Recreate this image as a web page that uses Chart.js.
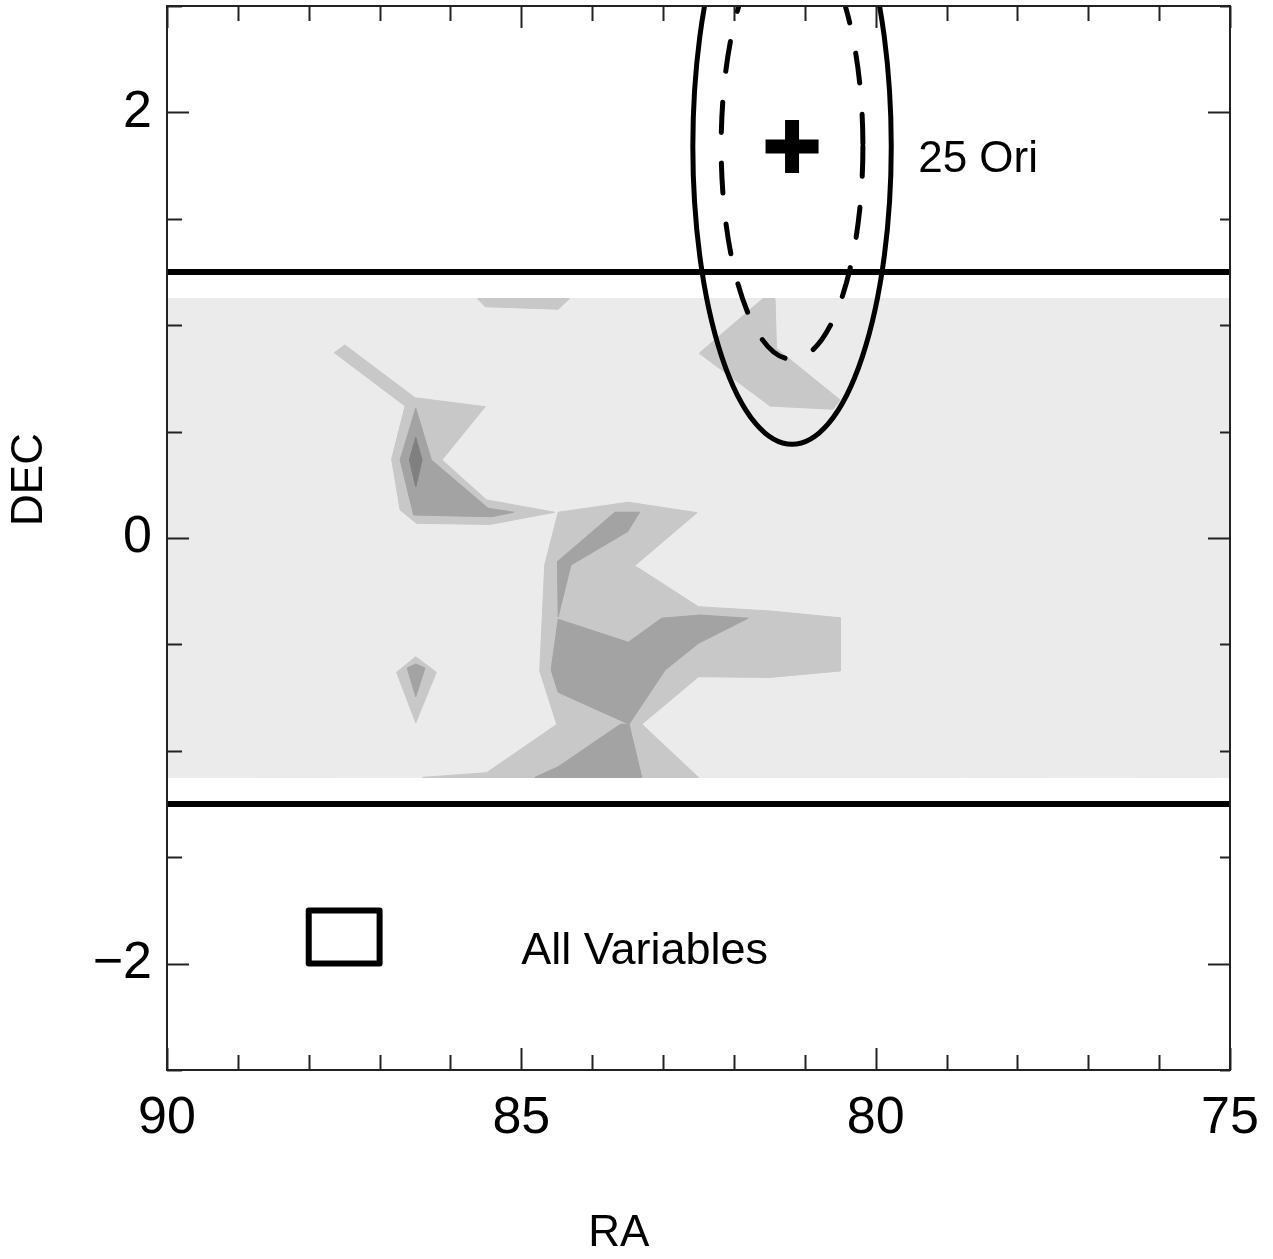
<!DOCTYPE html>
<html lang="en">
<head>
<meta charset="UTF-8">
<title>RA / DEC map</title>
<script src="https://cdn.jsdelivr.net/npm/chart.js"></script>
<style>
  html, body { margin: 0; padding: 0; background: #fff; }
  canvas { display: block; }
</style>
</head>
<body>
<canvas id="raDecChart" width="1273" height="1259"></canvas>
<script>
// axis ranges and ticks
const raRange = [75, 90];
const decRange = [-2.5, 2.5];
const raMajorTicks = [90, 85, 80, 75];
const raMinorStep = 1;
const decMajorTicks = [2, 0, -2];
const decMinorStep = 0.5;
const raTitle = 'RA';
const decTitle = 'DEC';

// observed strip and its two edge lines
const stripPoly = [[90, 1.125], [75, 1.125], [75, -1.125], [90, -1.125]];
const edgeDecs = [1.25, -1.25];

// contour level 1 (mid grey)
const midA = [[87.49, 0.907], [86.50, 0.659], [85.51, 0.617], [86.12, 0.367], [85.49, 0.179], [84.53, 0.121],
  [85.44, 0.064], [86.48, 0.069], [86.71, 0.132], [86.83, 0.371], [86.64, 0.620], [87.64, 0.871]];
const midTop = [[85.62, 1.125], [84.32, 1.125], [84.48, 1.075], [85.51, 1.087]];
const midB = [[84.48, 0.121], [83.49, 0.168], [82.52, 0.119], [83.40, -0.130], [82.50, -0.323], [81.49, -0.343],
  [80.50, -0.375], [80.50, -0.625], [81.49, -0.655], [82.50, -0.652], [83.30, -0.875], [82.50, -1.125],
  [86.39, -1.125], [85.49, -1.103], [84.50, -0.876], [84.74, -0.625], [84.67, -0.127]];
const midC = [[81.42, 1.125], [81.40, 0.891], [80.50, 0.648], [80.60, 0.605], [81.49, 0.620], [82.49, 0.868], [81.59, 1.125]];
const midD = [[86.49, -0.558], [86.20, -0.631], [86.49, -0.868], [86.76, -0.631]];

// contour level 2 (dark grey)
const darkA = [[86.49, 0.610], [86.27, 0.367], [85.47, 0.140], [85.11, 0.121], [85.42, 0.100], [86.52, 0.108], [86.71, 0.367]];
const darkB1 = [[83.68, 0.121], [83.33, 0.121], [83.50, 0.030], [84.30, -0.127], [84.48, -0.370], [84.49, -0.111]];
const darkB2 = [[84.48, -0.382], [83.49, -0.490], [83.02, -0.377], [82.48, -0.362], [81.80, -0.377], [82.50, -0.495],
  [82.97, -0.620], [83.48, -0.875], [84.48, -0.725], [84.58, -0.620]];
const darkB3 = [[83.60, -0.875], [83.48, -0.875], [83.30, -1.125], [84.81, -1.125], [84.48, -1.075]];
const darkD = [[86.49, -0.592], [86.36, -0.611], [86.49, -0.746], [86.61, -0.611]];

// contour level 3 (darkest)
const darkestA = [[86.49, 0.473], [86.40, 0.367], [86.49, 0.241], [86.58, 0.367]];

// 25 Ori position and the two circles round it (radius in degrees)
const oriCentre = [81.18, 1.84];
const ringRadii = [1.4, 1.0];
const oriLabel = '25 Ori';
const oriLabelAt = [79.4, 1.72];

// legend box
const legendBox = [[88, -1.75], [87, -1.75], [87, -2.0], [88, -2.0], [88, -1.75]];
const legendLabel = 'All Variables';
const legendLabelAt = [85, -2.0];

const FONT = '"Liberation Sans", Arial, Helvetica, sans-serif';
Chart.defaults.font.family = FONT;
Chart.defaults.color = '#000';

const toPts = poly => poly.map(p => ({ x: p[0], y: p[1] }));

function shape(poly, color, order) {
  const pts = toPts(poly);
  pts.push(pts[0]);
  return {
    data: pts, showLine: true, fill: 'shape',
    backgroundColor: color, borderColor: color, borderWidth: 1,
    pointRadius: 0, order: order
  };
}

function stroke(poly, width, order) {
  return {
    data: toPts(poly), showLine: true, fill: false,
    borderColor: '#000', borderWidth: width, borderJoinStyle: 'round', borderCapStyle: 'round',
    pointRadius: 0, order: order
  };
}

const LIGHT = '#ebebeb', MID = '#c8c8c8', DARK = '#a3a3a3', DARKEST = '#808080';

const datasets = [
  shape(stripPoly, LIGHT, 20),
  shape(midA, MID, 15), shape(midTop, MID, 15), shape(midB, MID, 15), shape(midC, MID, 15), shape(midD, MID, 15),
  shape(darkA, DARK, 12), shape(darkB1, DARK, 12), shape(darkB2, DARK, 12), shape(darkB3, DARK, 12), shape(darkD, DARK, 12),
  shape(darkestA, DARKEST, 10),
  stroke([[raRange[1], edgeDecs[0]], [raRange[0], edgeDecs[0]]], 6, 5),
  stroke([[raRange[1], edgeDecs[1]], [raRange[0], edgeDecs[1]]], 6, 5),
  stroke(legendBox, 6, 5),
  {
    data: [{ x: oriCentre[0], y: oriCentre[1] }],
    pointStyle: 'cross', pointRadius: 26.5, pointBorderWidth: 14,
    borderColor: '#000', backgroundColor: '#000', order: 1
  }
];

// rings, frame with inward ticks, and free text
const overlayPlugin = {
  id: 'overlay',
  afterDatasetsDraw(chart) {
    const { ctx, chartArea: a, scales: { x, y } } = chart;

    ctx.save();
    ctx.beginPath();
    ctx.rect(a.left, a.top, a.right - a.left, a.bottom - a.top);
    ctx.clip();
    const cx = x.getPixelForValue(oriCentre[0]);
    const cy = y.getPixelForValue(oriCentre[1]);
    ringRadii.forEach((r, i) => {
      const rx = Math.abs(x.getPixelForValue(oriCentre[0] + r) - cx);
      const ry = Math.abs(y.getPixelForValue(oriCentre[1] + r) - cy);
      ctx.beginPath();
      ctx.ellipse(cx, cy, rx, ry, 0, 0, Math.PI * 2);
      ctx.strokeStyle = '#000';
      ctx.lineWidth = 5;
      if (i === 0) {
        ctx.setLineDash([]);
      } else {
        ctx.lineCap = 'round';
        ctx.setLineDash([30, 31]);
      }
      ctx.stroke();
    });
    ctx.restore();

    // frame
    ctx.save();
    ctx.strokeStyle = '#222';
    ctx.lineWidth = 2;
    ctx.strokeRect(a.left, a.top, a.right - a.left, a.bottom - a.top);
    const tick = (x1, y1, x2, y2) => { ctx.beginPath(); ctx.moveTo(x1, y1); ctx.lineTo(x2, y2); ctx.stroke(); };
    for (let v = raRange[0]; v <= raRange[1]; v += raMinorStep) {
      const px = Math.round(x.getPixelForValue(v)) + 0.5;
      const len = raMajorTicks.includes(v) ? 22 : 15;
      tick(px, a.bottom, px, a.bottom - len);
      tick(px, a.top, px, a.top + len);
    }
    const nDec = Math.round((decRange[1] - decRange[0]) / decMinorStep);
    for (let k = 0; k <= nDec; k++) {
      const v = decRange[0] + k * decMinorStep;
      const py = Math.round(y.getPixelForValue(v)) + 0.5;
      const major = decMajorTicks.includes(v);
      tick(a.left, py, a.left + (major ? 22 : 15), py);
      tick(a.right, py, a.right - (major ? 22 : 10), py);
    }
    ctx.restore();

    // free text
    ctx.save();
    ctx.fillStyle = '#000';
    ctx.textAlign = 'left';
    ctx.textBaseline = 'alphabetic';
    ctx.font = '44px ' + FONT;
    ctx.fillText(oriLabel, x.getPixelForValue(oriLabelAt[0]), y.getPixelForValue(oriLabelAt[1]));
    ctx.font = '45px ' + FONT;
    ctx.fillText(legendLabel, x.getPixelForValue(legendLabelAt[0]), y.getPixelForValue(legendLabelAt[1]));

    // axis titles
    ctx.font = '44px ' + FONT;
    ctx.textAlign = 'center';
    ctx.textBaseline = 'middle';
    ctx.fillText(raTitle, a.left + (a.right - a.left) * 0.425, a.bottom + 164);
    ctx.translate(30, a.top + (a.bottom - a.top) * 0.445);
    ctx.rotate(-Math.PI / 2);
    ctx.fillText(decTitle, 0, 0);
    ctx.restore();
  }
};

new Chart(document.getElementById('raDecChart'), {
  type: 'scatter',
  data: { datasets: datasets },
  options: {
    responsive: false,
    animation: false,
    devicePixelRatio: 1,
    layout: { autoPadding: false, padding: { top: 6, right: 43, left: 0, bottom: 0 } },
    plugins: { legend: { display: false }, tooltip: { enabled: false } },
    scales: {
      x: {
        type: 'linear', min: raRange[0], max: raRange[1], reverse: true,
        grid: { display: false, drawTicks: false }, border: { display: false },
        ticks: {
          stepSize: raMinorStep, autoSkip: false, maxRotation: 0, padding: 17,
          font: { size: 52 }, color: '#000',
          callback: v => raMajorTicks.includes(v) ? String(v) : ''
        },
        afterFit: s => { s.height = 189; s.paddingLeft = 0; s.paddingRight = 0; }
      },
      y: {
        type: 'linear', min: decRange[0], max: decRange[1],
        grid: { display: false, drawTicks: false }, border: { display: false },
        ticks: {
          stepSize: decMinorStep, autoSkip: false, padding: 15,
          font: { size: 52 }, color: '#000',
          callback: v => decMajorTicks.includes(v) ? (v < 0 ? '\u2212' + Math.abs(v) : String(v)) : ''
        },
        afterFit: s => { s.width = 167; s.paddingTop = 0; s.paddingBottom = 0; }
      }
    }
  },
  plugins: [overlayPlugin]
});
</script>
</body>
</html>
